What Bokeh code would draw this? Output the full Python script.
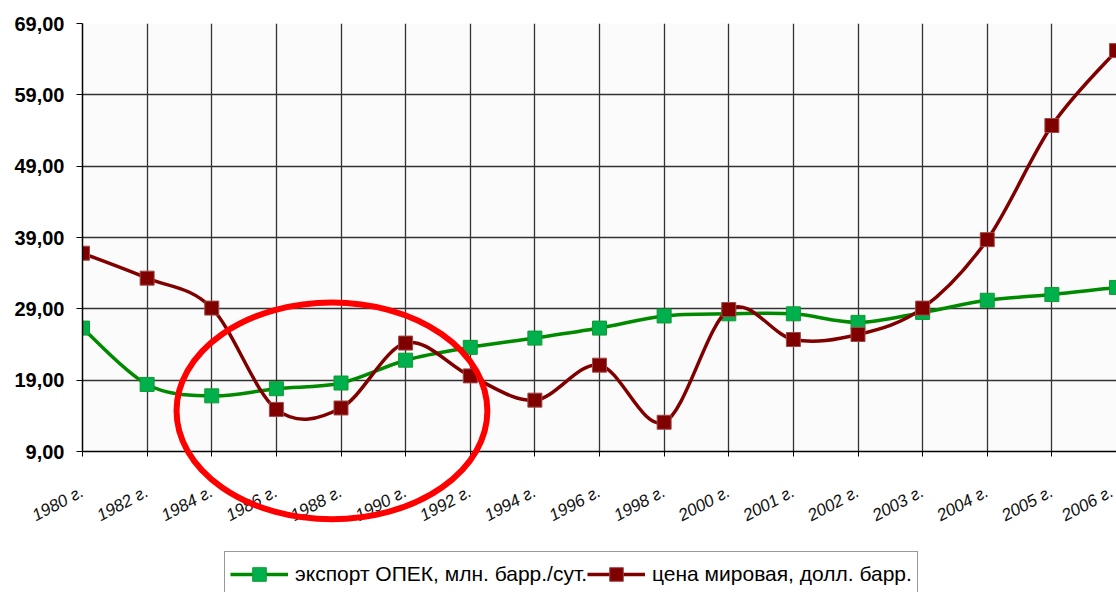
import numpy as np
from bokeh.plotting import figure
from bokeh.layouts import column
from bokeh.models import Range1d, FixedTicker, Legend, LegendItem, ColumnDataSource
from bokeh.embed import file_html
from bokeh.resources import INLINE

years = ["1980 г.", "1982 г.", "1984 г.", "1986 г.", "1988 г.", "1990 г.", "1992 г.",
         "1994 г.", "1996 г.", "1998 г.", "2000 г.", "2001 г.", "2002 г.", "2003 г.",
         "2004 г.", "2005 г.", "2006 г."]
export_opec = [26.3, 18.4, 16.8, 17.8, 18.6, 21.8, 23.6, 24.9, 26.3, 28.0, 28.3, 28.3,
               27.1, 28.5, 30.2, 31.0, 32.0]
price_world = [36.8, 33.3, 29.1, 14.9, 15.1, 24.2, 19.6, 16.2, 21.1, 13.1, 28.9, 24.7,
               25.4, 29.1, 38.7, 54.7, 65.2]
y_ticks = [9, 19, 29, 39, 49, 59, 69]
y_tick_labels = ["9,00", "19,00", "29,00", "39,00", "49,00", "59,00", "69,00"]
export_label = "экспорт ОПЕК, млн. барр./сут."
price_label = "цена мировая, долл. барр."

xs = list(range(len(years)))
src = ColumnDataSource(dict(x=xs, export=export_opec, price=price_world))

GREEN_LINE, GREEN_FILL, GREEN_EDGE = "#008a00", "#00b04c", "#109a30"
RED_LINE, RED_FILL, RED_EDGE = "#800000", "#800000", "#a04848"


def smooth_segments(x, y):
    """Bezier control points (Catmull-Rom) through the data points."""
    n = len(x)
    out = dict(x0=[], y0=[], x1=[], y1=[], cx0=[], cy0=[], cx1=[], cy1=[])
    for i in range(n - 1):
        xm, ym = (x[i - 1], y[i - 1]) if i > 0 else (x[i], y[i])
        xp2, yp2 = (x[i + 2], y[i + 2]) if i + 2 < n else (x[i + 1], y[i + 1])
        out["x0"].append(x[i]); out["y0"].append(y[i])
        out["x1"].append(x[i + 1]); out["y1"].append(y[i + 1])
        out["cx0"].append(x[i] + (x[i + 1] - xm) / 6)
        out["cy0"].append(y[i] + (y[i + 1] - ym) / 6)
        out["cx1"].append(x[i + 1] - (xp2 - x[i]) / 6)
        out["cy1"].append(y[i + 1] - (yp2 - y[i]) / 6)
    return out


MAIN_H = 541
p = figure(width=1116, height=MAIN_H, output_backend="svg", toolbar_location=None,
           x_range=Range1d(0, len(years) - 1), y_range=Range1d(9, 69),
           min_border_left=82, min_border_right=0, min_border_top=23,
           min_border_bottom=90)
p.background_fill_color = "#fbfbfb"
p.border_fill_color = "white"
p.outline_line_color = None

# grids
p.xgrid.ticker = FixedTicker(ticks=xs)
p.ygrid.ticker = FixedTicker(ticks=y_ticks)
for g in (p.xgrid, p.ygrid):
    g.grid_line_color = "#333333"
    g.grid_line_width = 1.3

# axes
p.xaxis.ticker = FixedTicker(ticks=xs)
p.xaxis.major_label_overrides = {i: years[i] for i in xs}
p.xaxis.major_label_orientation = np.pi / 6.4
p.xaxis.major_label_text_font = "Liberation Sans"
p.xaxis.major_label_text_font_style = "italic"
p.xaxis.major_label_text_font_size = "17px"
p.xaxis.major_label_text_color = "#111111"
p.xaxis.major_label_standoff = 34
p.xaxis.major_tick_in = 0
p.xaxis.major_tick_out = 5
p.xaxis.minor_tick_line_color = None
p.xaxis.axis_line_color = "black"
p.xaxis.axis_line_width = 1.5

p.yaxis.ticker = FixedTicker(ticks=y_ticks)
p.yaxis.major_label_overrides = {t: l for t, l in zip(y_ticks, y_tick_labels)}
p.yaxis.major_label_text_font = "Liberation Sans"
p.yaxis.major_label_text_font_style = "bold"
p.yaxis.major_label_text_font_size = "20px"
p.yaxis.major_label_text_color = "black"
p.yaxis.major_label_standoff = 12
p.yaxis.major_tick_in = 0
p.yaxis.major_tick_out = 6
p.yaxis.minor_tick_line_color = None
p.yaxis.axis_line_color = "black"
p.yaxis.axis_line_width = 1.5

# series (smoothed lines through the data points, markers at the points)
gs = smooth_segments(xs, export_opec)
p.bezier(x0=gs["x0"], y0=gs["y0"], x1=gs["x1"], y1=gs["y1"],
         cx0=gs["cx0"], cy0=gs["cy0"], cx1=gs["cx1"], cy1=gs["cy1"],
         line_color=GREEN_LINE, line_width=3.5)
p.scatter("x", "export", source=src, marker="square", size=14,
          fill_color=GREEN_FILL, line_color=GREEN_EDGE, line_width=1)

rs = smooth_segments(xs, price_world)
p.bezier(x0=rs["x0"], y0=rs["y0"], x1=rs["x1"], y1=rs["y1"],
         cx0=rs["cx0"], cy0=rs["cy0"], cx1=rs["cx1"], cy1=rs["cy1"],
         line_color=RED_LINE, line_width=3.5)
p.scatter("x", "price", source=src, marker="square", size=14,
          fill_color=RED_FILL, line_color=RED_EDGE, line_width=1)

# highlight ellipse
p.ellipse(x=3.86, y=14.7, width=4.81, height=30.4, fill_alpha=0,
          line_color="#ff0000", line_width=6, level="overlay")

# legend strip (separate figure below, same width and left border)
p2 = figure(width=1116, height=592 - MAIN_H, output_backend="svg", toolbar_location=None,
            x_range=p.x_range, y_range=Range1d(100, 101),
            x_axis_location=None, y_axis_location=None,
            min_border_left=82, min_border_right=0, min_border_top=0,
            min_border_bottom=0)
p2.grid.visible = False
p2.outline_line_color = None
p2.background_fill_color = "white"
p2.border_fill_color = "white"

gl = p2.line("x", "export", source=src, line_color=GREEN_LINE, line_width=3.5)
gm = p2.scatter("x", "export", source=src, marker="square", size=14,
                fill_color=GREEN_FILL, line_color=GREEN_EDGE, line_width=1)
rl = p2.line("x", "price", source=src, line_color=RED_LINE, line_width=3.5)
rm = p2.scatter("x", "price", source=src, marker="square", size=14,
                fill_color=RED_FILL, line_color=RED_EDGE, line_width=1)

legend = Legend(items=[LegendItem(label=export_label, renderers=[gl, gm]),
                       LegendItem(label=price_label, renderers=[rl, rm])],
                location=(142, -5), orientation="horizontal",
                label_text_font="Liberation Sans", label_text_font_size="21px",
                label_text_color="black", glyph_width=58, glyph_height=34,
                label_standoff=7, spacing=0, padding=5, margin=0,
                border_line_color="#333333", border_line_width=1,
                background_fill_color="white", background_fill_alpha=1)
p2.add_layout(legend)

layout = column(p, p2, spacing=0)
open("out.html", "w").write(file_html(layout, INLINE))
